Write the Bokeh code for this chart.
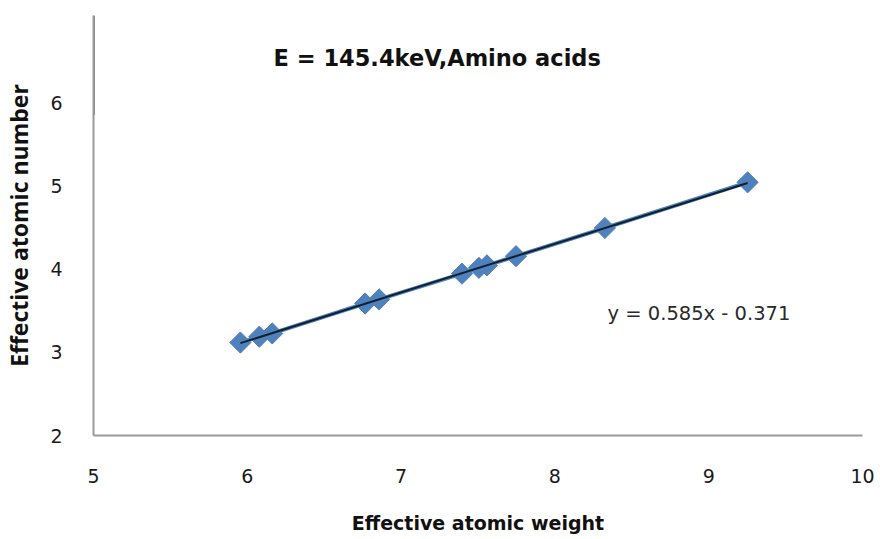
import math
from bokeh.plotting import figure
from bokeh.models import Range1d, Label, FixedTicker
from bokeh.embed import file_html
from bokeh.resources import INLINE

# data
eff_weight = [5.955, 6.078, 6.162, 6.766, 6.857, 7.396, 7.506, 7.558, 7.747, 8.325, 9.253]
eff_number = [3.12, 3.19, 3.23, 3.59, 3.64, 3.95, 4.02, 4.05, 4.16, 4.50, 5.05]
slope = 0.585
intercept = -0.371
x_ticks = [5, 6, 7, 8, 9, 10]
y_ticks = [2, 3, 4, 5, 6]
axis_dark_y = [5.86, 7.06]

p = figure(width=880, height=539, output_backend="svg", toolbar_location=None,
           x_range=Range1d(5, 10), y_range=Range1d(2, 7.06),
           min_border_left=93, min_border_right=18, min_border_top=15, min_border_bottom=104)
p.outline_line_color = None
p.xgrid.visible = False
p.ygrid.visible = False

for ax in (p.xaxis[0], p.yaxis[0]):
    ax.axis_line_color = "#9a9a9a"
    ax.axis_line_width = 2
    ax.major_tick_line_color = None
    ax.minor_tick_line_color = None
    ax.major_label_text_font = "DejaVu Sans"
    ax.major_label_text_font_size = "19px"
    ax.major_label_text_color = "#1a1a1a"
    ax.axis_label_text_font_style = "bold"
    ax.axis_label_text_color = "#111111"

p.xaxis.ticker = FixedTicker(ticks=x_ticks)
p.yaxis.ticker = FixedTicker(ticks=y_ticks)
p.xaxis.axis_label = "Effective atomic weight"
p.yaxis.axis_label = "Effective atomic number"
p.xaxis.axis_label_text_font = "DejaVu Sans"
p.xaxis.axis_label_text_font_size = "19px"
p.yaxis.axis_label_text_font = "Open Sans"
p.yaxis.axis_label_text_font_size = "23px"
p.xaxis.major_label_standoff = 27
p.yaxis.major_label_standoff = 25
p.xaxis.axis_label_standoff = 26
p.yaxis.axis_label_standoff = 12

# dark segment at top of y axis
p.segment(x0=[5], y0=[axis_dark_y[0]], x1=[5], y1=[axis_dark_y[1]], line_color="#111111", line_width=2)

xs = [min(eff_weight), max(eff_weight)]
ys = [slope * x + intercept for x in xs]
p.line(eff_weight, eff_number, line_color="#4F81BD", line_width=4)
p.scatter(eff_weight, eff_number, marker="square", angle=math.pi / 4, size=15,
          fill_color="#4F81BD", line_color="#4F81BD")
p.line(xs, ys, line_color="#10202e", line_width=2)

p.add_layout(Label(x=180, y=378, x_units="screen", y_units="screen",
                   text="E = 145.4keV,Amino acids", text_font="DejaVu Sans", text_font_style="bold",
                   text_font_size="22.5px", text_color="#111111", text_baseline="alphabetic"))
p.add_layout(Label(x=514, y=122, x_units="screen", y_units="screen",
                   text="y = 0.585x - 0.371", text_font="DejaVu Sans",
                   text_font_size="19.5px", text_color="#2a2a2a", text_baseline="alphabetic"))

open("out.html", "w").write(file_html(p, INLINE))
